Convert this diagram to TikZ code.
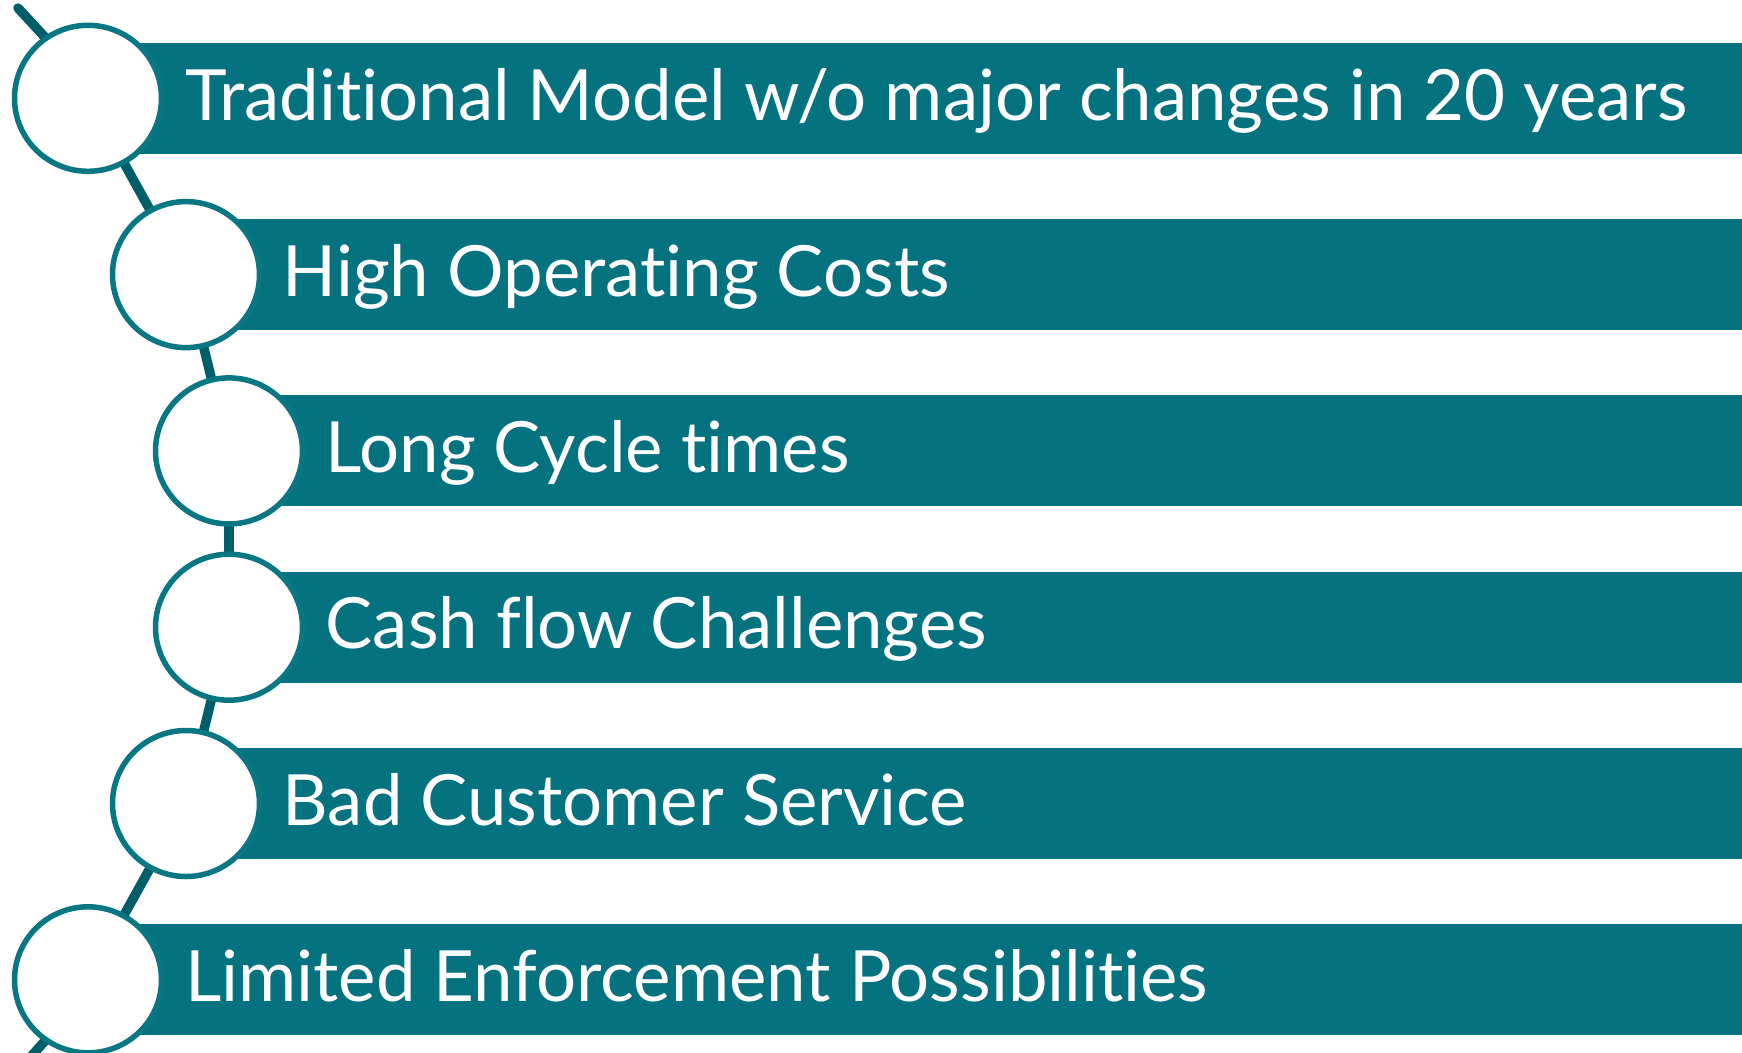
\documentclass[tikz,border=0pt]{standalone}
\usepackage{fontspec}
\setmainfont[Ligatures=NoCommon]{Lato}
\usetikzlibrary{backgrounds,shapes.geometric}
\definecolor{barc}{RGB}{4,114,127}
\definecolor{ringc}{RGB}{8,118,131}
\definecolor{linkc}{RGB}{0,94,105}
\tikzset{
  barbox/.style={fill=barc, draw=none, minimum height=111pt, inner sep=0pt, outer sep=0pt, anchor=west},
  dot/.style={ellipse, draw=ringc, line width=5.5pt, fill=white, minimum width=147pt, minimum height=146pt, inner sep=0pt, outer sep=0pt},
  lab/.style={anchor=base west, text=white, inner sep=0pt, font=\fontsize{70.7}{80}\selectfont},
  link/.style={draw=linkc, line width=9.5pt, line cap=round}
}
\begin{document}
\begin{tikzpicture}[x=1pt,y=-1pt]
\useasboundingbox (0,0) rectangle (1742,1052);
\clip (0,0) rectangle (1742,1052);
% circles
\node[dot] (c1) at (88,98.3) {};
\node[dot] (c2) at (186,274.6) {};
\node[dot] (c3) at (229,450.9) {};
\node[dot] (c4) at (229,627.2) {};
\node[dot] (c5) at (186,803.5) {};
\node[dot] (c6) at (88,979.8) {};
\coordinate (t0) at (18,8);
\coordinate (t7) at (18,1071);
% labels
\node[lab] (l1) at (185,120) {Traditional Model w/o major changes in 20 years};
\node[lab] (l2) at (282.5,296.3) {High Operating Costs};
\node[lab] (l3) at (325.5,472.6) {Long Cycle times};
\node[lab] (l4) at (325.5,648.9) {Cash flow Challenges};
\node[lab] (l5) at (282.5,825.2) {Bad Customer Service};
\node[lab] (l6) at (185,1001.5) {Limited Enforcement Possibilities};
\begin{pgfonlayer}{background}
  \node[barbox, minimum width=1620pt] (b1) at (140,98.3) {};
  \node[barbox, minimum width=1520pt] (b2) at (237.5,274.6) {};
  \node[barbox, minimum width=1480pt] (b3) at (280.5,450.9) {};
  \node[barbox, minimum width=1480pt] (b4) at (280.5,627.2) {};
  \node[barbox, minimum width=1520pt] (b5) at (237.5,803.5) {};
  \node[barbox, minimum width=1620pt] (b6) at (140,979.8) {};
  \draw[link] (t0) -- (c1.125);
  \draw[link] (c1) -- (c2);
  \draw[link] (c2) -- (c3);
  \draw[link] (c3) -- (c4);
  \draw[link] (c4) -- (c5);
  \draw[link] (c5) -- (c6);
  \draw[link] (c6.235) -- (t7);
\end{pgfonlayer}
\end{tikzpicture}
\end{document}
